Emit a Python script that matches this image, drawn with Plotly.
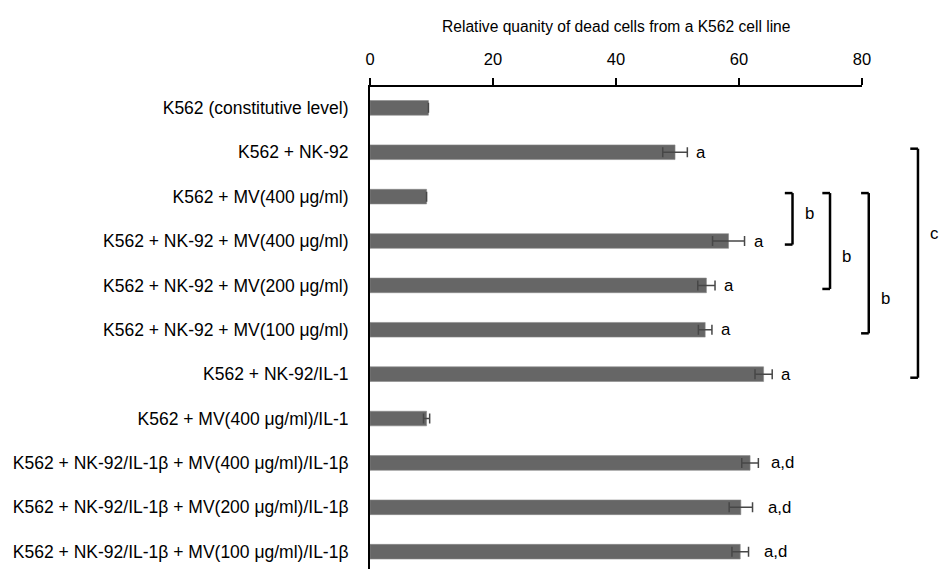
import plotly.graph_objects as go

categories = [
    "K562 (constitutive level)",
    "K562 + NK-92",
    "K562 + MV(400 μg/ml)",
    "K562 + NK-92 + MV(400 μg/ml)",
    "K562 + NK-92 + MV(200 μg/ml)",
    "K562 + NK-92 + MV(100 μg/ml)",
    "K562 + NK-92/IL-1",
    "K562 + MV(400 μg/ml)/IL-1",
    "K562 + NK-92/IL-1β + MV(400 μg/ml)/IL-1β",
    "K562 + NK-92/IL-1β + MV(200 μg/ml)/IL-1β",
    "K562 + NK-92/IL-1β + MV(100 μg/ml)/IL-1β",
]
values = [9.5, 49.6, 9.2, 58.3, 54.7, 54.5, 64.0, 9.2, 61.8, 60.3, 60.2]
errors = [0.0, 2.0, 0.0, 2.6, 1.4, 1.1, 1.4, 0.5, 1.35, 1.9, 1.35]
letters = ["", "a", "", "a", "a", "a", "a", "", "a,d", "a,d", "a,d"]
letter_gap = [0, 7, 0, 7, 7, 7, 7, 0, 11, 13, 13]

# brackets: (first row, last row, x in data units, label, label row position)
brackets = [
    (2, 3, 68.7, "b", 2.37),
    (2, 4, 74.8, "b", 3.36),
    (2, 5, 81.1, "b", 4.29),
    (1, 6, 89.1, "c", 2.84),
]

XMAX = 80
FONT = "Liberation Sans, Arial, sans-serif"

fig = go.Figure()
fig.add_trace(go.Bar(
    x=values, y=categories, orientation="h",
    marker=dict(color="#666666", line=dict(color="#8a8a8a", width=0.6)),
    width=0.33,
    error_x=dict(type="data", array=errors, visible=True, color="#474747",
                 thickness=1.5, width=5),
    showlegend=False,
))

for i, (v, e, t, g) in enumerate(zip(values, errors, letters, letter_gap)):
    if t:
        fig.add_annotation(x=v + e, y=categories[i], xref="x", yref="y",
                           text=t, showarrow=False, xanchor="left",
                           xshift=g, font=dict(size=16.8, color="black", family=FONT))

tick = 1.25  # bracket arm length in data units
for r0, r1, bx, lab, ly in brackets:
    px = bx / XMAX
    pt = (bx - tick) / XMAX
    y0 = r0 - 0.08
    y1 = r1 + 0.08
    for (xa, ya, xb, yb) in [(pt, y0, px, y0), (px, y0, px, y1), (px, y1, pt, y1)]:
        fig.add_shape(type="line", xref="paper", yref="y",
                      x0=xa, y0=ya, x1=xb, y1=yb,
                      line=dict(color="black", width=2.5))
    fig.add_annotation(x=px, y=ly, xref="paper", yref="y", text=lab,
                       showarrow=False, xanchor="left", xshift=10,
                       font=dict(size=16.8, color="black", family=FONT))

fig.add_annotation(x=0.5, y=(569 - 26) / 482, xref="paper", yref="paper",
                   text="Relative quanity of dead cells from a K562 cell line",
                   showarrow=False, xanchor="center", yanchor="middle",
                   font=dict(size=15.6, color="black", family=FONT))

fig.update_layout(
    width=939, height=569,
    margin=dict(l=370, r=77, t=87, b=0, pad=0),
    paper_bgcolor="white", plot_bgcolor="white",
    font=dict(family=FONT, color="black"),
    bargap=0.67,
    xaxis=dict(side="top", range=[0, XMAX], tickvals=[0, 20, 40, 60, 80],
               showline=True, linecolor="black", linewidth=2,
               ticks="outside", ticklen=7, tickwidth=2, tickcolor="black",
               showgrid=False, zeroline=False,
               tickfont=dict(size=16.5, family=FONT, color="black"),
               ticklabelstandoff=6),
    yaxis=dict(range=[10.39, -0.47], showline=True, linecolor="black",
               linewidth=2, ticks="", showgrid=False, zeroline=False,
               tickfont=dict(size=17.5, family=FONT, color="black"),
               ticklabelstandoff=16),
)

fig.write_html("out.html")
